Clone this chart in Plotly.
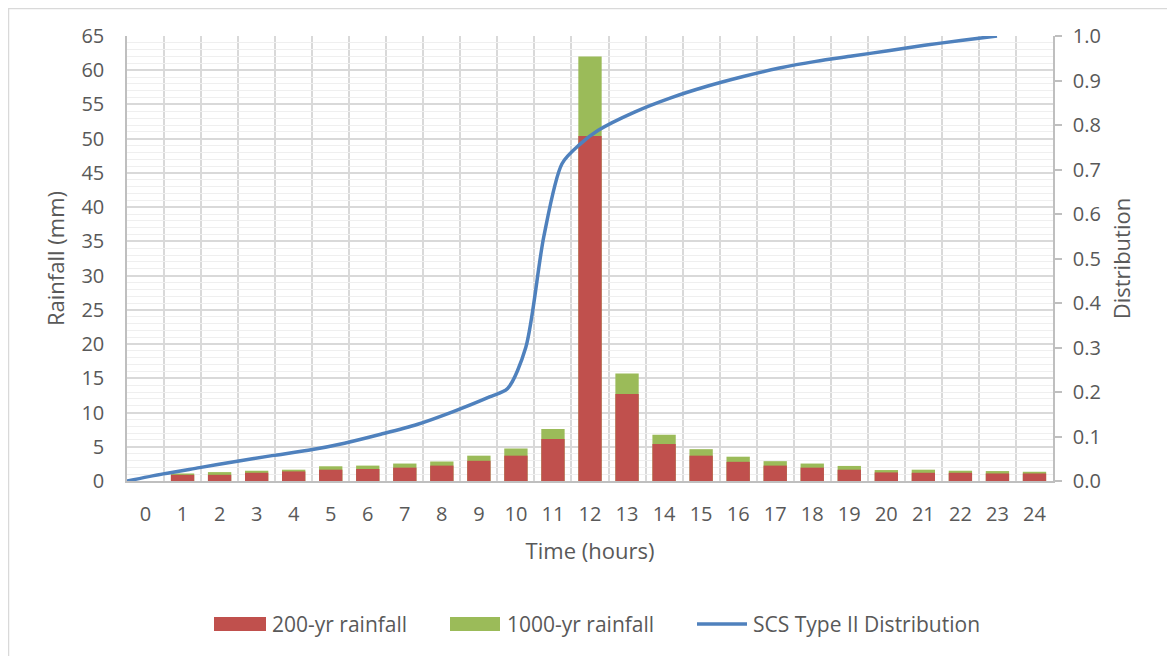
import plotly.graph_objects as go

# ---------------- data ----------------
hours = list(range(25))
hour_labels = [str(h) for h in hours]

rain_200 = [0.0, 0.9, 0.9, 1.2, 1.4, 1.65, 1.75, 1.95, 2.25, 2.95, 3.7, 6.15, 50.4, 12.7, 5.4,
            3.7, 2.8, 2.25, 1.95, 1.65, 1.25, 1.2, 1.2, 1.1, 1.1]
rain_1000 = [0.0, 1.1, 1.3, 1.5, 1.65, 2.15, 2.25, 2.55, 2.85, 3.7, 4.75, 7.6, 62.0, 15.7, 6.75,
             4.65, 3.55, 2.9, 2.55, 2.2, 1.6, 1.65, 1.5, 1.45, 1.35]

dist_hours = [0, 1, 2, 3, 4, 5, 6, 7, 8, 9, 10, 10.5, 11, 11.5, 12, 12.5, 13, 14, 15, 16,
              17, 18, 19, 20, 21, 22, 23, 24]
dist_values = [0.0, 0.016, 0.030, 0.044, 0.057, 0.069, 0.085, 0.105, 0.127, 0.156, 0.189,
               0.208, 0.30, 0.55, 0.713, 0.757, 0.788, 0.829, 0.861, 0.887, 0.909, 0.928,
               0.943, 0.955, 0.967, 0.979, 0.990, 1.0]

series_names = ["200-yr rainfall", "1000-yr rainfall", "SCS Type II Distribution"]

# ---------------- style ----------------
FONT = "Open Sans"
TXT = "#595959"
GRID = "#d9d9d9"
MINOR = "#efefef"
AXIS = "#bfbfbf"
RED = "#C0504D"
GREEN = "#9BBB59"
BLUE = "#4F81BD"

# plot area in figure pixels (page body adds an 8px offset)
PL, PR, PT, PB = 119, 122, 28, 175
FW, FH = 1167, 648
PW, PH = FW - PL - PR, FH - PT - PB


def px(page_x):
    return (page_x - 8 - PL) / PW


def py(page_y):
    return (FH - PB - (page_y - 8)) / PH


fig = go.Figure()

fig.add_trace(go.Bar(
    x=hours, y=rain_1000, name=series_names[1], marker_color=GREEN,
    width=0.63, marker_line_width=0, showlegend=False,
))
fig.add_trace(go.Bar(
    x=hours, y=rain_200, name=series_names[0], marker_color=RED,
    width=0.63, marker_line_width=0, showlegend=False,
))
fig.add_trace(go.Scatter(
    x=dist_hours, y=dist_values, name=series_names[2],
    mode="lines", line=dict(color=BLUE, width=3.5, shape="spline", smoothing=0.8),
    xaxis="x2", yaxis="y2", showlegend=False,
))

# legend drawn as swatches + text (Excel-style wide swatches)
leg_y = 624
shapes = [
    dict(type="rect", xref="paper", yref="paper",
         x0=px(0.5 + 8), x1=1.3, y0=-0.6, y1=py(0.5 + 8),
         line=dict(color=GRID, width=1.5), layer="below"),
    dict(type="rect", xref="paper", yref="paper", x0=px(214), x1=px(266),
         y0=py(631), y1=py(617), fillcolor=RED, line=dict(width=0)),
    dict(type="rect", xref="paper", yref="paper", x0=px(450), x1=px(500),
         y0=py(631), y1=py(617), fillcolor=GREEN, line=dict(width=0)),
    dict(type="line", xref="paper", yref="paper", x0=px(697), x1=px(747),
         y0=py(leg_y), y1=py(leg_y), line=dict(color=BLUE, width=3.5)),
]
annotations = [
    dict(text=series_names[0], x=px(270), y=py(leg_y)),
    dict(text=series_names[1], x=px(505), y=py(leg_y)),
    dict(text=series_names[2], x=px(751), y=py(leg_y)),
]
for a in annotations:
    a.update(xref="paper", yref="paper", xanchor="left", yanchor="middle",
             showarrow=False, font=dict(size=21, color=TXT, family=FONT))

fig.update_layout(
    width=FW, height=FH,
    margin=dict(l=PL, r=PR, t=PT, b=PB, autoexpand=False),
    paper_bgcolor="white", plot_bgcolor="white",
    barmode="overlay", showlegend=False,
    font=dict(family=FONT, size=20, color=TXT),
    xaxis=dict(
        range=[-0.5, 24.5], tickmode="array", tickvals=hours, ticktext=hour_labels,
        showgrid=False, zeroline=False, showline=True, linecolor=AXIS, linewidth=2,
        ticks="", ticklabelstandoff=14, automargin=False,
        tickfont=dict(size=20, color=TXT),
        minor=dict(tickmode="array", tickvals=[h + 0.5 for h in hours[:-1]],
                   showgrid=True, gridcolor=GRID, gridwidth=1.5, ticks=""),
        title=dict(text="Time (hours)", standoff=18, font=dict(size=22, color=TXT)),
    ),
    yaxis=dict(
        range=[0, 65], dtick=5, showgrid=True, gridcolor=GRID, gridwidth=1.5,
        zeroline=False, showline=True, linecolor=AXIS, linewidth=1.5, ticks="",
        ticklabelstandoff=17, automargin=False,
        tickfont=dict(size=20, color=TXT),
        minor=dict(dtick=1, showgrid=True, gridcolor=MINOR, gridwidth=1),
        title=dict(text="Rainfall (mm)", standoff=11, font=dict(size=22, color=TXT)),
    ),
    xaxis2=dict(range=[0, 25.545], overlaying="x", visible=False),
    yaxis2=dict(
        range=[0, 1], dtick=0.1, tickformat=".1f", overlaying="y", side="right",
        showgrid=False, zeroline=False, showline=True, linecolor=AXIS, linewidth=1.5,
        ticks="outside", ticklen=7, tickcolor=AXIS, tickwidth=1.5, ticklabelstandoff=7,
        automargin=False, tickfont=dict(size=20, color=TXT),
        title=dict(text="Distribution", standoff=14, font=dict(size=22, color=TXT)),
    ),
    shapes=shapes,
    annotations=annotations,
)

fig.write_html("out.html")
